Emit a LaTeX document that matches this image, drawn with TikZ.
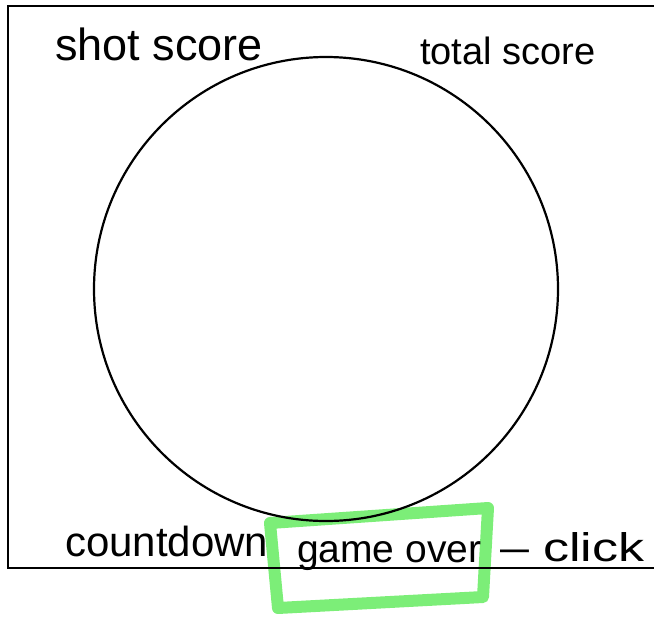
\documentclass[tikz,border=0pt]{standalone}
\usepackage{fontspec}
\setmainfont{Liberation Sans}
\definecolor{hilite}{RGB}{124,238,120}
\tikzset{
  hand/.style={inner sep=0pt, outer sep=0pt, anchor=base west, text=black},
  frame/.style={draw=black, line width=2.6pt},
  ring/.style={draw=black, line width=2.2pt},
  marker/.style={draw=hilite, line width=12pt, line join=round, line cap=round}
}
\begin{document}
\begin{tikzpicture}[x=1pt,y=-1pt]
\useasboundingbox (0,0) rectangle (654,619);
% green highlight around "game over"
\draw[marker] (270,523) -- (488,508) -- (483,597) -- (278,608) -- cycle;
% screen frame (right edge runs off the page)
\draw[frame] (8,6) rectangle (680,568);
% play area
\draw[ring] (326,289) circle[radius=232];
% labels
\node[hand, font=\fontsize{45}{45}\selectfont] (shot) at (55,60) {shot score};
\node[hand, font=\fontsize{38}{38}\selectfont] (total) at (420,64) {total score};
\node[hand, font=\fontsize{42}{42}\selectfont] (count) at (65,556) {countdown};
\node[hand, font=\fontsize{39}{39}\selectfont] (over) at (297,562) {game over};
\node[hand, font=\fontsize{40}{40}\selectfont] (click) at (500,561) {\scalebox{1.3}[1]{– click}};
\end{tikzpicture}
\end{document}
